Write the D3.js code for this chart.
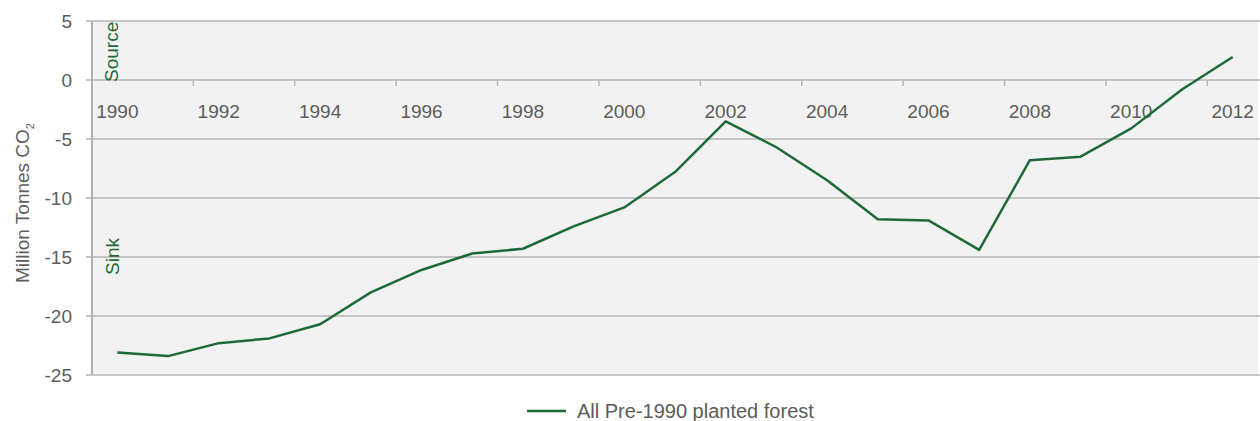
<!DOCTYPE html>
<html><head><meta charset="utf-8">
<script src="https://cdn.jsdelivr.net/npm/d3@7"></script>
<style>body{margin:0;background:#fff;}svg{display:block;font-family:"Liberation Sans",Arial,sans-serif;}</style>
</head><body>
<script>
const years = ["1990","1991","1992","1993","1994","1995","1996","1997","1998","1999","2000","2001","2002","2003","2004","2005","2006","2007","2008","2009","2010","2011","2012"];
const values = [-23.1,-23.4,-22.3,-21.9,-20.7,-18.0,-16.1,-14.7,-14.3,-12.4,-10.8,-7.8,-3.5,-5.7,-8.5,-11.8,-11.9,-14.4,-6.8,-6.5,-4.1,-0.8,1.95];
const yTicks = [5,0,-5,-10,-15,-20,-25];
const seriesName = "All Pre-1990 planted forest";

const W=1260,H=421;
const m={l:92,r:2,t:21,b:46};
const svg=d3.select("body").append("svg").attr("width",W).attr("height",H);
const x=d3.scaleBand().domain(years).range([m.l,W-m.r]);
const y=d3.scaleLinear().domain([-25,5]).range([H-m.b,m.t]);
const grey="#5c5c5c", grid="#b5b5b5", green="#1d6a38";
const fs=19;

svg.append("rect").attr("x",m.l).attr("y",m.t).attr("width",W-m.r-m.l).attr("height",y(-25)-m.t).attr("fill","#f2f2f2");
svg.append("g").selectAll("line").data(yTicks).join("line")
  .attr("x1",m.l-6).attr("x2",W).attr("y1",d=>y(d)).attr("y2",d=>y(d))
  .attr("stroke",grid).attr("stroke-width",1.5);
svg.append("g").selectAll("text").data(yTicks).join("text")
  .attr("x",72).attr("y",d=>y(d)).attr("dy","0.35em").attr("text-anchor","end")
  .attr("fill",grey).attr("font-size",fs).text(d=>d);
svg.append("line").attr("x1",m.l).attr("x2",m.l).attr("y1",m.t).attr("y2",y(-25)).attr("stroke","#b0b0b0").attr("stroke-width",2);

// category ticks at boundaries every 2 years
const bw=x.bandwidth();
svg.append("g").selectAll("line").data(years.filter((d,i)=>i%2===0&&i>0)).join("line")
  .attr("x1",d=>x(d)).attr("x2",d=>x(d)).attr("y1",y(0)).attr("y2",y(0)+6)
  .attr("stroke",grid).attr("stroke-width",1.5);
svg.append("g").selectAll("text").data(years.filter((d,i)=>i%2===0)).join("text")
  .attr("x",d=>x(d)+bw/2).attr("y",y(0)+38).attr("text-anchor","middle")
  .attr("fill",grey).attr("font-size",fs).text(d=>d);

const line=d3.line().x((d,i)=>x(years[i])+bw/2).y(d=>y(d));
svg.append("path").datum(values).attr("d",line).attr("fill","none").attr("stroke",green).attr("stroke-width",2.5).attr("stroke-linejoin","round");

svg.append("text").attr("transform",`translate(118,82) rotate(-90)`).attr("fill",green).attr("font-size",fs).text("Source");
svg.append("text").attr("transform",`translate(119,275) rotate(-90)`).attr("fill",green).attr("font-size",fs).text("Sink");

const yt=svg.append("text").attr("transform",`translate(29,203) rotate(-90)`).attr("text-anchor","middle").attr("fill",grey).attr("font-size",fs);
yt.append("tspan").text("Million Tonnes CO");
yt.append("tspan").attr("font-size",11).attr("dy",5).text("2");

svg.append("line").attr("x1",527).attr("x2",566).attr("y1",411).attr("y2",411).attr("stroke",green).attr("stroke-width",2.5);
svg.append("text").attr("x",577).attr("y",418).attr("fill",grey).attr("font-size",20).text(seriesName);
</script>
</body></html>
